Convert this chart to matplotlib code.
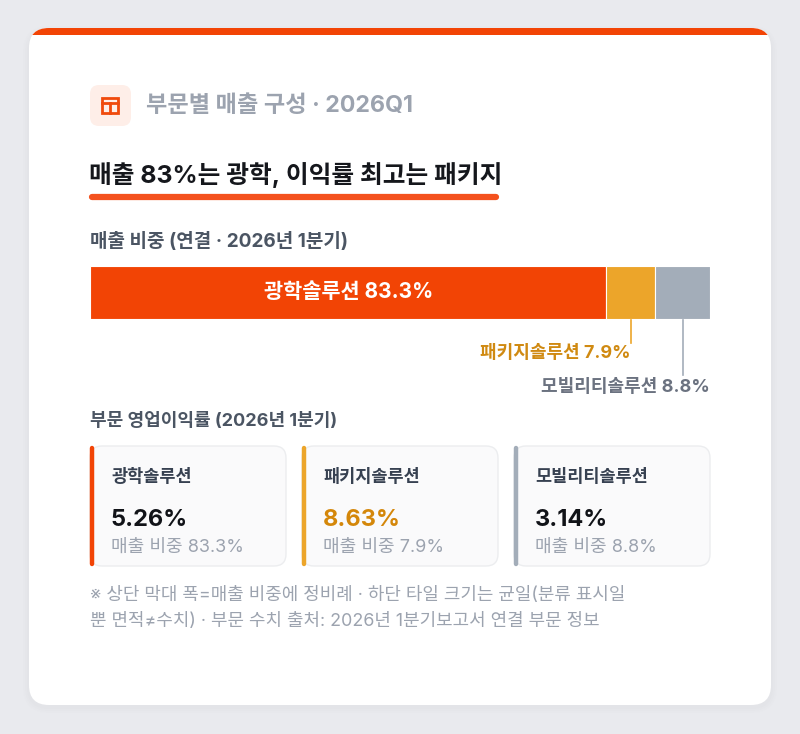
import matplotlib
matplotlib.use("Agg")
import matplotlib.pyplot as plt
from matplotlib.patches import FancyBboxPatch, Rectangle
from matplotlib import transforms

plt.rcParams['font.family'] = ['Inter', 'Noto Sans CJK KR', 'DejaVu Sans']

# data
segments = ["광학솔루션", "패키지솔루션", "모빌리티솔루션"]
share = [83.3, 7.9, 8.8]          # 매출 비중 (%)
margin = [5.26, 8.63, 3.14]       # 영업이익률 (%)
seg_colors = ["#F24405", "#ECA52A", "#A3ADB9"]
value_colors = ["#111318", "#D4870A", "#111318"]
label_colors = ["#FFFFFF", "#D08A12", "#6B7280"]

header = "부문별 매출 구성 · 2026Q1"
title = "매출 83%는 광학, 이익률 최고는 패키지"
bar_head = "매출 비중 (연결 · 2026년 1분기)"
tile_head = "부문 영업이익률 (2026년 1분기)"
note1 = "※ 상단 막대 폭=매출 비중에 정비례 · 하단 타일 크기는 균일(분류 표시일"
note2 = "뿐 면적≠수치) · 부문 수치 출처: 2026년 1분기보고서 연결 부문 정보"

W, H = 800, 734
fig = plt.figure(figsize=(W / 100, H / 100), dpi=100)
fig.patch.set_facecolor("#E9EAEE")
ax = fig.add_axes([0, 0, 1, 1])
ax.set_xlim(0, W); ax.set_ylim(H, 0); ax.axis("off")

# card + shadow
for i, a in enumerate([0.025, 0.02, 0.015]):
    d = 2 + 2 * i
    ax.add_patch(FancyBboxPatch((29 - d, 30 - d + 2), 742 + 2 * d, 675 + 2 * d,
                                boxstyle="round,pad=0,rounding_size=%d" % (20 + d),
                                fc="#9AA0AA", ec="none", alpha=a, zorder=0))
card = FancyBboxPatch((29, 28), 742, 677, boxstyle="round,pad=0,rounding_size=20",
                      fc="white", ec="none", zorder=1)
ax.add_patch(card)
band = Rectangle((29, 28), 742, 7, fc="#F24405", ec="none", zorder=2)
ax.add_patch(band); band.set_clip_path(card)

# header icon
ax.add_patch(FancyBboxPatch((90, 85), 41, 41, boxstyle="round,pad=0,rounding_size=9",
                            fc="#FEEEE8", ec="none", zorder=2))
ax.add_patch(Rectangle((102, 97.5), 16, 15, fc="none", ec="#F04A0C", lw=2.0, zorder=3))
ax.plot([102, 118], [102.5, 102.5], color="#F04A0C", lw=2.0, zorder=3)
ax.plot([110, 110], [102.5, 112.5], color="#F04A0C", lw=2.0, zorder=3)
ax.text(146, 106, header, fontsize=16.7, fontweight="bold", color="#9CA3AF",
        va="center", ha="left", zorder=3)

# title + underline
ax.text(89, 175, title, fontsize=17.8, fontweight="bold", color="#15171C",
        va="center", ha="left", zorder=3)
ax.plot([92, 496], [196.5, 196.5], color="#F4511E", lw=4.5, solid_capstyle="round", zorder=3)

ax.text(90, 242, bar_head, fontsize=13.7, fontweight="bold", color="#4B5563",
        va="center", ha="left", zorder=3)

# stacked share bar
bx = fig.add_axes([90 / W, 1 - 319 / H, 620 / W, 53 / H])
left = 0
lefts = []
for s, c in zip(share, seg_colors):
    bx.barh(0, s, left=left, height=1, color=c, edgecolor="white", linewidth=0.8)
    lefts.append(left)
    left += s
bx.set_xlim(0, sum(share)); bx.set_ylim(-0.5, 0.5); bx.axis("off")
bx.text(lefts[0] + share[0] / 2, 0, f"{segments[0]} {share[0]}%", color="white",
        fontsize=15, fontweight="bold", ha="center", va="center")

tr = transforms.blended_transform_factory(bx.transData, ax.transData)
c1 = lefts[1] + share[1] / 2
c2 = lefts[2] + share[2] / 2
ax.plot([c1, c1], [320, 343], color=seg_colors[1], lw=1.2, transform=tr, zorder=3)
ax.plot([c2, c2], [320, 375], color=seg_colors[2], lw=1.2, transform=tr, zorder=3)
ax.text(c1, 354, f"{segments[1]} {share[1]}%", transform=tr, ha="right", va="center",
        fontsize=13, fontweight="bold", color=label_colors[1], zorder=3)
ax.text(sum(share), 387, f"{segments[2]} {share[2]}%", transform=tr, ha="right",
        va="center", fontsize=13, fontweight="bold", color=label_colors[2], zorder=3)

ax.text(90, 421, tile_head, fontsize=13, fontweight="bold", color="#4B5563",
        va="center", ha="left", zorder=3)

# tiles
tw, gap, ty, th = 196, 16, 446, 120
for i, seg in enumerate(segments):
    x0 = 90 + i * (tw + gap)
    tile = FancyBboxPatch((x0, ty), tw, th, boxstyle="round,pad=0,rounding_size=12",
                          fc="#FAFAFB", ec="#ECEDEF", lw=1, zorder=2)
    ax.add_patch(tile)
    ax.plot([x0 + 1.5, x0 + 1.5], [ty + 2, ty + th - 2], color=seg_colors[i], lw=3.2,
            solid_capstyle="round", zorder=3)
    ax.text(x0 + 21, 478, seg, fontsize=12.6, fontweight="bold", color="#374151",
            va="center", ha="left", zorder=3)
    ax.text(x0 + 21, 520, f"{margin[i]:.2f}%", fontsize=17, fontweight="bold",
            color=value_colors[i], va="center", ha="left", zorder=3)
    ax.text(x0 + 21, 547, f"매출 비중 {share[i]}%", fontsize=13, color="#9CA3AF",
            va="center", ha="left", zorder=3)

ax.text(90, 595, note1, fontsize=12.9, color="#9CA3AF", va="center", ha="left", zorder=3)
ax.text(90, 622, note2, fontsize=12.9, color="#9CA3AF", va="center", ha="left", zorder=3)

fig.savefig("out.png", dpi=100, facecolor=fig.get_facecolor())
